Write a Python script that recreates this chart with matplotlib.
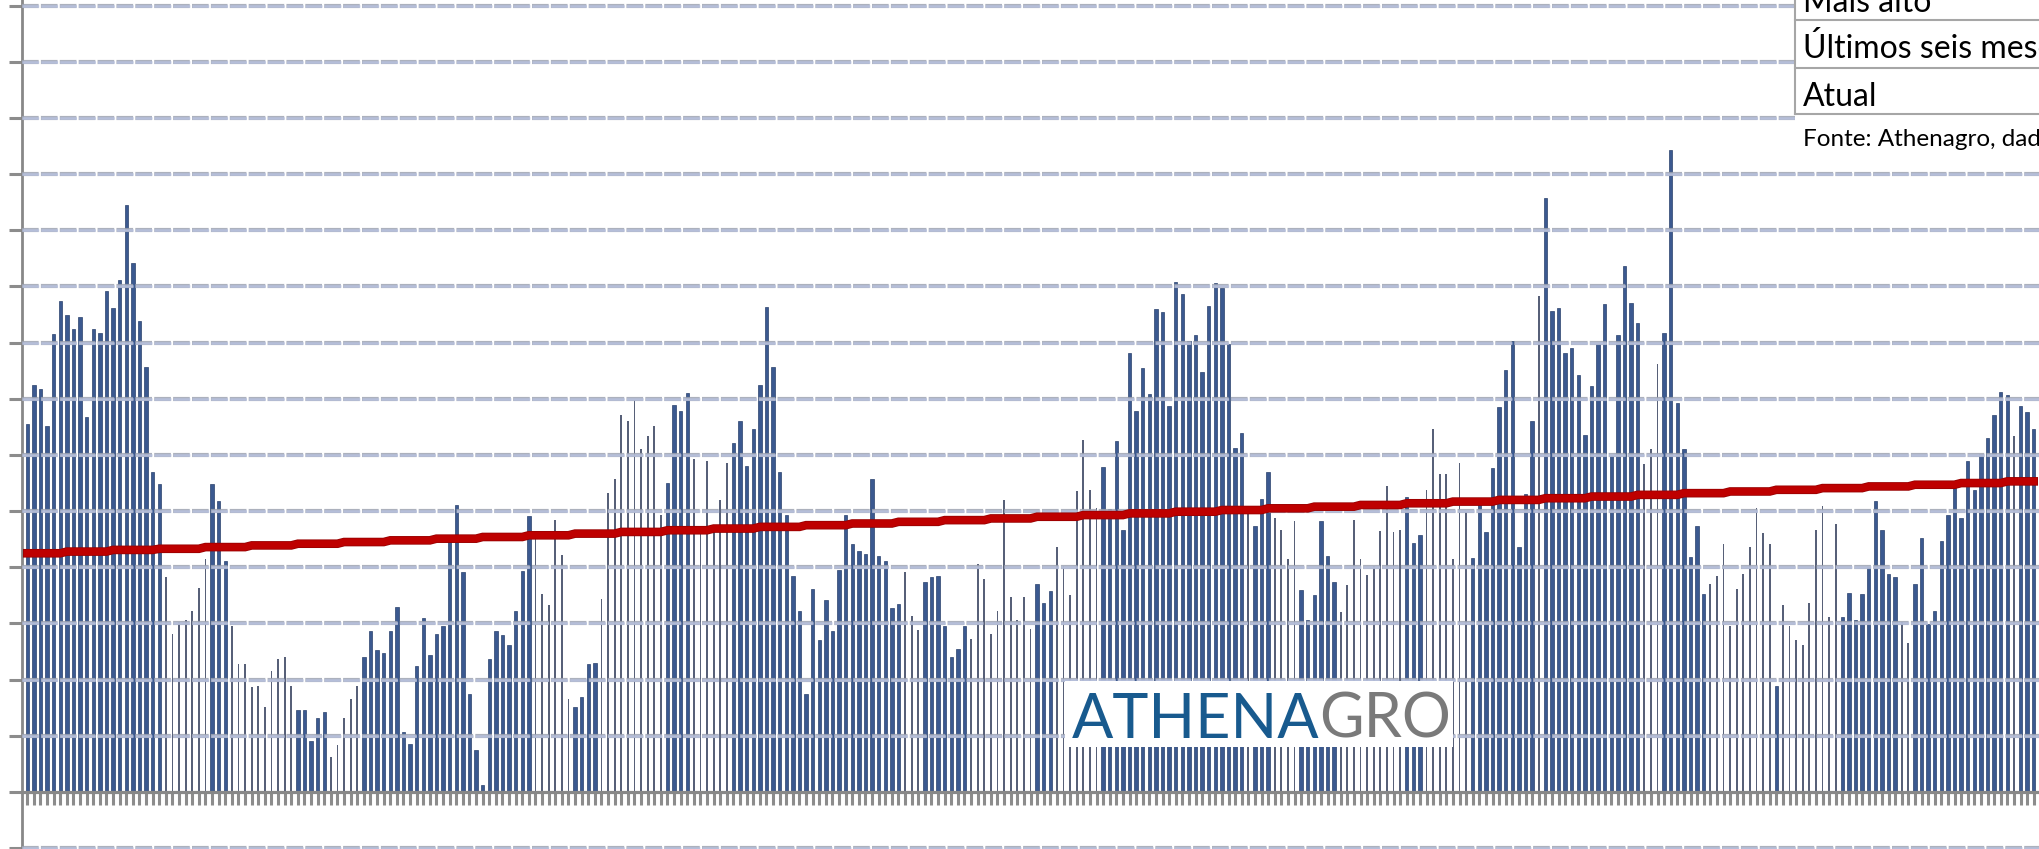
import numpy as np
import matplotlib.pyplot as plt
import matplotlib.patheffects as pe
from matplotlib.patches import Rectangle
from matplotlib.lines import Line2D

plt.rcParams['lines.scale_dashes'] = False

# Bar values (one per week)
valores = [
    6.55, 7.25, 7.18, 6.51, 8.16, 8.74, 8.50, 8.25, 8.45, 6.67,
    8.25, 8.18, 8.92, 8.62, 9.12, 10.45, 9.41, 8.39, 7.57, 5.69,
    5.49, 3.82, 2.82, 3.03, 3.06, 3.23, 3.64, 4.15, 5.49, 5.18,
    4.11, 2.95, 2.28, 2.28, 1.87, 1.89, 1.52, 2.15, 2.36, 2.41,
    1.89, 1.46, 1.46, 0.91, 1.32, 1.42, 0.63, 0.83, 1.32, 1.66,
    1.89, 2.41, 2.86, 2.52, 2.47, 2.86, 3.29, 1.06, 0.85, 2.24,
    3.09, 2.44, 2.82, 2.95, 4.47, 5.11, 3.91, 1.74, 0.74, 0.12,
    2.36, 2.86, 2.80, 2.62, 3.23, 3.94, 4.91, 4.55, 3.53, 3.33,
    4.85, 4.22, 1.66, 1.52, 1.69, 2.28, 2.30, 3.44, 5.32, 5.58,
    6.72, 6.60, 6.98, 6.10, 6.34, 6.51, 4.94, 5.50, 6.89, 6.78,
    7.10, 5.93, 4.62, 5.89, 4.66, 5.20, 5.86, 6.22, 6.60, 5.81,
    6.46, 7.24, 8.63, 7.57, 5.69, 4.94, 3.85, 3.23, 1.74, 3.61,
    2.71, 3.41, 2.86, 3.96, 4.94, 4.41, 4.29, 4.24, 5.58, 4.20,
    4.11, 3.27, 3.35, 3.91, 3.13, 2.89, 3.74, 3.82, 3.85, 2.96,
    2.41, 2.54, 2.95, 2.73, 4.06, 3.79, 2.82, 3.23, 5.20, 3.47,
    3.06, 3.47, 2.91, 3.70, 3.37, 3.58, 4.36, 4.03, 3.50, 5.35,
    6.27, 5.37, 5.05, 5.78, 5.03, 6.25, 4.67, 7.81, 6.78, 7.54,
    7.08, 8.59, 8.54, 6.87, 9.08, 8.86, 8.03, 8.13, 7.48, 8.65,
    9.07, 8.98, 7.98, 6.13, 6.40, 5.03, 4.73, 5.22, 5.69, 4.88,
    4.67, 4.15, 4.82, 3.60, 3.06, 3.50, 4.82, 4.21, 3.74, 3.21,
    3.68, 4.85, 4.15, 3.86, 4.03, 4.65, 5.44, 4.63, 4.67, 5.26,
    4.43, 4.58, 5.37, 6.46, 5.67, 5.67, 4.15, 5.86, 4.99, 4.17,
    5.22, 4.63, 5.76, 6.85, 7.51, 8.03, 4.36, 5.31, 6.60, 8.83,
    10.58, 8.57, 8.62, 7.81, 7.90, 7.42, 6.36, 7.22, 7.98, 8.68,
    5.99, 8.13, 9.36, 8.71, 8.35, 5.84, 6.10, 7.62, 8.18, 11.43,
    6.92, 6.10, 4.19, 4.73, 3.53, 3.70, 3.85, 4.41, 2.96, 3.61,
    3.88, 4.36, 5.05, 4.61, 4.41, 1.89, 3.33, 2.96, 2.71, 2.62,
    3.37, 4.67, 5.09, 3.12, 4.77, 3.12, 3.55, 3.06, 3.53, 4.00,
    5.18, 4.67, 3.88, 3.82, 3.03, 2.65, 3.70, 4.52, 2.99, 3.23,
    4.47, 4.94, 5.45, 4.88, 5.89, 5.37, 6.02, 6.31, 6.72, 7.13,
    7.07, 6.34, 6.87, 6.76, 6.46,
]

# Reference line (red): one level per block of weeks
niveis = [4.25, 4.28, 4.31, 4.33, 4.36, 4.39, 4.42, 4.45, 4.48, 4.51,
          4.54, 4.57, 4.60, 4.63, 4.66, 4.69, 4.72, 4.75, 4.78, 4.81,
          4.84, 4.87, 4.90, 4.93, 4.96, 4.99, 5.02, 5.05, 5.08, 5.11,
          5.14, 5.17, 5.20, 5.23, 5.26, 5.29, 5.32, 5.35, 5.38, 5.41,
          5.44, 5.47, 5.50, 5.53]
semanas_por_nivel = [6] + [7] * 42 + [5]

# Table text (top right, cropped in the original)
linhas_tabela = ['Mais alto', 'Últimos seis meses', 'Atual']
fonte = 'Fonte: Athenagro, dados'

# bars drawn thin/grey in the original rendering
faixas_finas = [(21, 27), (31, 40), (46, 50), (77, 82), (87, 96), (101, 106),
                (133, 135), (143, 152), (156, 162), (185, 185), (189, 192),
                (199, 208), (212, 218), (229, 229), (245, 247), (255, 264),
                (266, 274), (284, 285), (301, 301)]

W, H = 2039, 849
fx = lambda px: px / W
fy = lambda py: 1 - py / H

fig = plt.figure(figsize=(W / 100, H / 100), dpi=100)
ax = fig.add_axes([fx(22), 0, 1 - fx(22), 1])

valores = np.array(valores)
x = np.arange(len(valores))
linha = np.repeat(niveis, semanas_por_nivel)

fino = np.zeros(len(valores), dtype=bool)
for a, b in faixas_finas:
    fino[a:b + 1] = True

ax.bar(x[~fino], valores[~fino], width=0.52, color='#3B5990',
       edgecolor='#2A416C', linewidth=0.5, zorder=2)
ax.bar(x[fino], valores[fino], width=0.28, color='#576078',
       linewidth=0, zorder=2)

# dashed gridlines (grey outline, light blue fill)
for y in range(-1, 15):
    if y == 0:
        continue
    ax.axhline(y, color='#9EA4B2', lw=3.0, dashes=(12, 1.6), zorder=3, alpha=0.85)
    ax.axhline(y, color='#B7C1DF', lw=1.8, dashes=(12, 1.6), zorder=3, alpha=0.85)

ax.plot(x, linha, color='#BE0000', lw=5.0, zorder=4, solid_joinstyle='miter',
        path_effects=[pe.Stroke(linewidth=6.2, foreground='#990000'), pe.Normal()])

ax.set_xlim(-0.8, 304.8)
ax.set_ylim(-1.015, 14.10)

for s in ['top', 'right']:
    ax.spines[s].set_visible(False)
ax.spines['left'].set_color('#888888')
ax.spines['left'].set_linewidth(2.0)
ax.spines['bottom'].set_position(('data', 0))
ax.spines['bottom'].set_color('#888888')
ax.spines['bottom'].set_linewidth(2.3)
ax.spines['bottom'].set_zorder(5)

ax.set_xticks(x)
ax.set_xticklabels([])
ax.set_yticks(range(-1, 15))
ax.set_yticklabels([])
ax.tick_params(axis='x', direction='out', length=9.5, width=2.2, color='#8C8C8C')
ax.tick_params(axis='y', direction='out', length=9.5, width=2.2, color='#8C8C8C')

# table block at top right
ax.add_patch(Rectangle((fx(1795), fy(152)), 1, 1, transform=fig.transFigure,
                       facecolor='white', edgecolor='none', zorder=6, clip_on=False))
borda = '#A6A6A6'
fig.add_artist(Line2D([fx(1795), fx(1795)], [fy(114), 1.01], color=borda, lw=1.5, zorder=7))
for yy in [20, 68, 114]:
    fig.add_artist(Line2D([fx(1795), 1.01], [fy(yy), fy(yy)], color=borda, lw=1.5, zorder=7))
for txt, yb in zip(linhas_tabela, [12, 58, 106]):
    fig.text(fx(1803), fy(yb), txt, fontsize=23, family='Lato', color='black',
             va='baseline', ha='left', zorder=8)
fig.text(fx(1803), fy(146), fonte, fontsize=17.5, family='Lato', color='black',
         va='baseline', ha='left', zorder=8)

# logo
ax.add_patch(Rectangle((fx(1065), fy(747)), fx(1453) - fx(1065), fy(681) - fy(747),
                       transform=fig.transFigure, facecolor='white',
                       edgecolor='none', zorder=6, clip_on=False))
t1 = fig.text(fx(1072), fy(738), 'ATHENA', fontsize=44, family='Lato',
              fontweight='normal', color='#185A8E', va='baseline', ha='left', zorder=8)
fig.canvas.draw()
bb = t1.get_window_extent(renderer=fig.canvas.get_renderer())
fig.text(bb.x1 / W, fy(738), 'GRO', fontsize=44, family='Lato',
         fontweight='normal', color='#7A7A7A', va='baseline', ha='left', zorder=8)

fig.savefig('out.png', dpi=100)
